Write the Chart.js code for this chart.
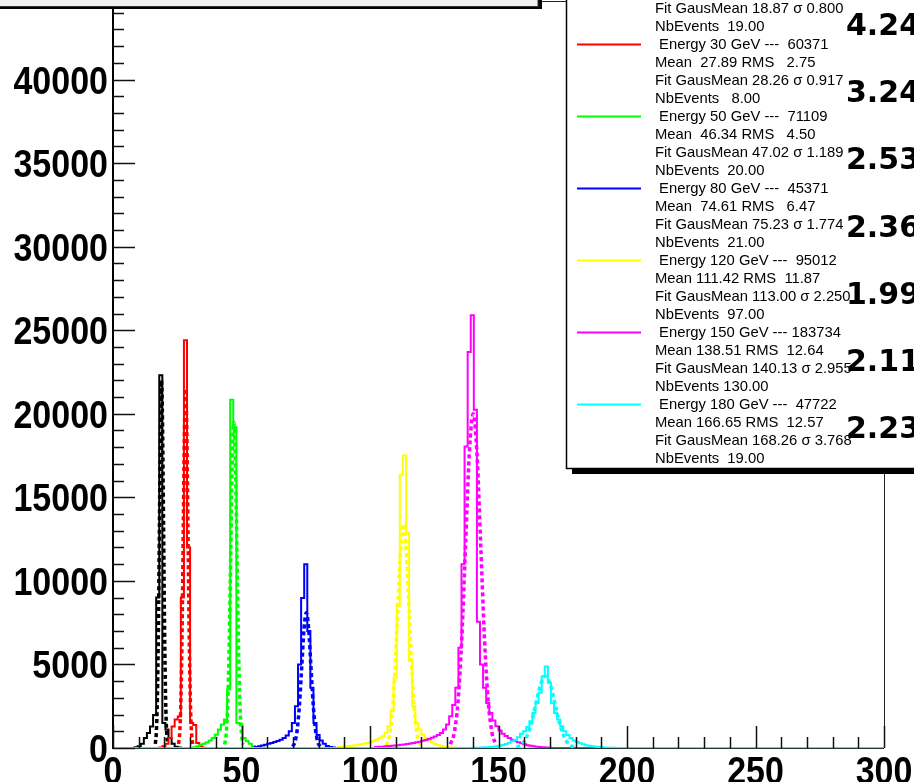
<!DOCTYPE html>
<html>
<head>
<meta charset="utf-8">
<title>Energy resolution</title>
<script src="https://cdn.jsdelivr.net/npm/chart.js@4.4.1/dist/chart.umd.min.js"></script>
<style>
  html, body { margin: 0; padding: 0; background: #fff; overflow: hidden; }
  canvas { display: block; }
</style>
</head>
<body>
<canvas id="resoChart" width="914" height="782"></canvas>
<script>
// histogram binning (GeV)
const binWidth = 1.2;
const xTickLabels = [0, 50, 100, 150, 200, 250, 300];
const yTickLabels = [0, 5000, 10000, 15000, 20000, 25000, 30000, 35000, 40000];

const energies = [20, 30, 50, 80, 120, 150, 180];
const entries = [null, 60371, 71109, 45371, 95012, 183734, 47722];
const means = [null, 27.89, 46.34, 74.61, 111.42, 138.51, 166.65];
const rmsVals = [null, 2.75, 4.50, 6.47, 11.87, 12.64, 12.57];
const fitMeans = [18.87, 28.26, 47.02, 75.23, 113.00, 140.13, 168.26];
const fitSigmas = [0.800, 0.917, 1.189, 1.774, 2.250, 2.955, 3.768];
const nbEvents = [19.00, 8.00, 20.00, 21.00, 97.00, 130.00, 19.00];
const resolutions = ['4.24', '3.24', '2.53', '2.36', '1.99', '2.11', '2.23'];

// first filled bin of each histogram, then the bin contents
const firstBin = [7, 15, 25, 46, 73, 85, 116];
const counts20 = [40, 100, 250, 600, 900, 1280, 1980, 9000, 22300, 1500, 1100, 600, 250, 80, 25];
const counts30 = [30, 100, 250, 600, 1280, 1700, 1880, 9000, 24400, 12000, 1500, 1380, 300, 80, 20];
const counts50 = [20, 50, 100, 180, 250, 330, 450, 600, 800, 1100, 1400, 1700, 3500, 20840, 19200,
                  1500, 1400, 600, 400, 250, 120, 50, 20];
const counts80 = [60, 100, 150, 200, 250, 300, 360, 420, 500, 600, 750, 1000, 1500, 2500, 5000, 8980,
                  11000, 7000, 3600, 1500, 780, 450, 250, 120, 60, 25];
const counts120 = [60, 80, 100, 120, 140, 160, 190, 220, 260, 300, 350, 420, 500, 600, 700, 900, 1300,
                   2200, 4200, 8500, 16350, 17500, 12900, 5200, 2500, 1500, 1100, 800, 600, 450, 330,
                   250, 180, 120, 80, 50, 30, 15];
const counts150 = [60, 70, 80, 100, 115, 130, 150, 170, 190, 215, 240, 270, 300, 340, 380, 430, 480,
                   540, 610, 690, 780, 900, 1100, 1400, 1900, 2570, 3600, 6000, 11000, 18040, 23700,
                   25900, 20240, 7560, 5000, 3600, 2700, 2100, 1650, 1300, 1050, 850, 720, 600, 500,
                   420, 350, 280, 220, 170, 130, 100, 75, 55, 40, 25, 15];
const counts180 = [10, 15, 20, 30, 40, 50, 65, 80, 100, 130, 180, 240, 320, 400, 480, 650, 850, 1000,
                   1250, 1600, 2100, 2700, 3300, 4300, 4870, 3900, 2700, 2100, 1700, 1300, 1000, 780,
                   600, 450, 370, 290, 220, 170, 130, 100, 75, 55, 40, 30, 20, 15, 10];

// gaussian fit curves
const fitX20 = [16.47, 16.87, 17.27, 17.67, 18.07, 18.47, 18.87, 19.27, 19.67, 20.07, 20.47, 20.87, 21.27];
const fitY20 = [244, 966, 2977, 7143, 13343, 19415, 22000, 19415, 13343, 7143, 2977, 966, 244];
const fitX30 = [25.51, 25.97, 26.43, 26.88, 27.34, 27.80, 28.26, 28.72, 29.18, 29.64, 30.09, 30.55, 31.01];
const fitY30 = [239, 944, 2909, 6981, 13040, 18974, 21500, 18974, 13040, 6981, 2909, 944, 239];
const fitX50 = [43.45, 44.05, 44.64, 45.24, 45.83, 46.43, 47.02, 47.61, 48.21, 48.80, 49.40, 49.99, 50.59];
const fitY50 = [216, 856, 2638, 6332, 11827, 17209, 19500, 17209, 11827, 6332, 2638, 856, 216];
const fitX80 = [69.91, 70.80, 71.68, 72.57, 73.46, 74.34, 75.23, 76.12, 77.00, 77.89, 78.78, 79.67, 80.55];
const fitY80 = [90, 356, 1096, 2630, 4913, 7148, 8100, 7148, 4913, 2630, 1096, 356, 90];
const fitX120 = [106.25, 107.38, 108.50, 109.63, 110.75, 111.88, 113.00, 114.13, 115.25, 116.38, 117.50, 118.63, 119.75];
const fitY120 = [149, 588, 1813, 4351, 8127, 11826, 13400, 11826, 8127, 4351, 1813, 588, 149];
const fitX150 = [131.27, 132.74, 134.22, 135.70, 137.18, 138.65, 140.13, 141.61, 143.09, 144.56, 146.04, 147.52, 148.99];
const fitY150 = [222, 878, 2706, 6494, 12130, 17650, 20000, 17650, 12130, 6494, 2706, 878, 222];
const fitX180 = [156.96, 158.84, 160.72, 162.61, 164.49, 166.38, 168.26, 170.14, 172.03, 173.91, 175.79, 177.68, 179.56];
const fitY180 = [48, 189, 582, 1396, 2608, 3795, 4300, 3795, 2608, 1396, 582, 189, 48];

const histCounts = [counts20, counts30, counts50, counts80, counts120, counts150, counts180];
const fitXs = [fitX20, fitX30, fitX50, fitX80, fitX120, fitX150, fitX180];
const fitYs = [fitY20, fitY30, fitY50, fitY80, fitY120, fitY150, fitY180];
const colors = ['#000000', '#ff0000', '#00ff00', '#0000ff', '#ffff00', '#ff00ff', '#00ffff'];

function histPoints(first, counts) {
  const pts = [{x: 0, y: 0}];
  counts.forEach((c, i) => pts.push({x: (first + i) * binWidth, y: c}));
  pts.push({x: (first + counts.length) * binWidth, y: 0});
  pts.push({x: 300, y: 0});
  return pts;
}

const datasets = [];
energies.forEach((e, k) => {
  datasets.push({
    label: 'Energy ' + e + ' GeV',
    data: histPoints(firstBin[k], histCounts[k]),
    borderColor: colors[k],
    borderWidth: 2,
    stepped: true,
    pointRadius: 0,
    fill: false
  });
  datasets.push({
    label: 'Fit ' + e + ' GeV',
    data: fitXs[k].map((x, i) => ({x: x, y: fitYs[k][i]})),
    borderColor: colors[k],
    borderWidth: 3.5,
    borderDash: [4, 3],
    cubicInterpolationMode: 'monotone',
    pointRadius: 0,
    fill: false
  });
});
// chart.js paints the first dataset on top, so reverse to get 180 GeV last
datasets.reverse();

function fmt(v, d, w) {
  return v.toFixed(d).padStart(w, ' ');
}

// bold axis labels, a bit taller than the plain font
function tallText(ctx, t, x, y) {
  ctx.save();
  ctx.translate(x, y);
  ctx.scale(1, 1.12);
  ctx.fillText(t, 0, 0);
  ctx.restore();
}

const rootStyle = {
  id: 'rootStyle',
  beforeDatasetsDraw(chart) {
    const ctx = chart.ctx, a = chart.chartArea;
    ctx.save();
    ctx.strokeStyle = '#222';
    ctx.lineWidth = 1;
    ctx.beginPath();
    ctx.moveTo(a.left, a.top + 0.5);
    ctx.lineTo(a.right + 0.5, a.top + 0.5);
    ctx.lineTo(a.right + 0.5, a.bottom);
    ctx.stroke();
    ctx.restore();
  },
  afterDatasetsDraw(chart) {
    const ctx = chart.ctx, a = chart.chartArea;
    const xs = chart.scales.x, ys = chart.scales.y;
    ctx.save();

    // axes
    ctx.strokeStyle = '#1a3a3a';
    ctx.lineWidth = 1;
    ctx.beginPath();
    ctx.moveTo(a.left, a.bottom + 0.5);
    ctx.lineTo(a.right, a.bottom + 0.5);
    ctx.stroke();
    ctx.strokeStyle = '#000';
    ctx.lineWidth = 2;
    ctx.beginPath();
    ctx.moveTo(a.left, a.top);
    ctx.lineTo(a.left, a.bottom + 1);
    ctx.stroke();

    // ticks point inwards, major every 5000 / 50
    ctx.lineWidth = 1.5;
    ctx.strokeStyle = '#111';
    for (let v = 0; v <= ys.max; v += 1000) {
      const py = Math.round(ys.getPixelForValue(v)) + 0.5;
      const len = v % 5000 === 0 ? 22 : 11;
      ctx.beginPath();
      ctx.moveTo(a.left, py);
      ctx.lineTo(a.left + len, py);
      ctx.stroke();
    }
    for (let v = 0; v <= 300; v += 10) {
      const px = Math.round(xs.getPixelForValue(v)) + 0.5;
      const len = v % 50 === 0 ? 22 : 11;
      ctx.beginPath();
      ctx.moveTo(px, a.bottom);
      ctx.lineTo(px, a.bottom - len);
      ctx.stroke();
    }

    // tick labels
    ctx.fillStyle = '#000';
    ctx.font = 'bold 34px "Liberation Sans", Arial, sans-serif';
    ctx.textAlign = 'right';
    ctx.textBaseline = 'alphabetic';
    yTickLabels.forEach(v => {
      tallText(ctx, String(v), a.left - 5, ys.getPixelForValue(v) + 14);
    });
    ctx.textAlign = 'center';
    xTickLabels.forEach(v => {
      tallText(ctx, String(v), xs.getPixelForValue(v), 784);
    });

    // title pave
    ctx.fillStyle = '#000';
    ctx.fillRect(0, 6, 542, 3);
    ctx.fillRect(538, -10, 4, 19);
    ctx.fillStyle = '#f0f0f0';
    ctx.fillRect(-5, -40, 543, 46);
    ctx.strokeStyle = '#333';
    ctx.lineWidth = 1;
    ctx.strokeRect(-5, -40, 543, 46.5);
    ctx.fillStyle = '#999';
    ctx.font = 'bold 30px "Liberation Sans", Arial, sans-serif';
    ctx.textAlign = 'left';
    ctx.fillText('Resolution for electrons from 20 to 180 GeV', 30, -1);

    // legend pave with shadow
    const lx = 566, lb = 468;
    ctx.fillStyle = '#000';
    ctx.fillRect(lx + 6, lb, 400, 6);
    ctx.fillStyle = '#fff';
    ctx.fillRect(lx, -10, 400, lb + 10);
    ctx.strokeStyle = '#000';
    ctx.lineWidth = 1.5;
    ctx.beginPath();
    ctx.moveTo(lx + 0.5, -10);
    ctx.lineTo(lx + 0.5, lb + 0.5);
    ctx.lineTo(914, lb + 0.5);
    ctx.stroke();

    ctx.font = '14.8px "Liberation Sans", Arial, sans-serif';
    ctx.textBaseline = 'middle';
    const lineY = k => 8.5 + 18.0 * k;
    energies.forEach((e, i) => {
      const k0 = i * 4 - 2;
      const lines = [
        entries[i] === null ? null : ' Energy ' + e + ' GeV --- ' + String(entries[i]).padStart(6, ' '),
        means[i] === null ? null : 'Mean ' + fmt(means[i], 2, 6) + ' RMS ' + fmt(rmsVals[i], 2, 6),
        'Fit GausMean ' + fitMeans[i].toFixed(2) + ' \u03c3 ' + fitSigmas[i].toFixed(3),
        'NbEvents ' + fmt(nbEvents[i], 2, 6)
      ];
      lines.forEach((t, j) => {
        if (t === null) return;
        ctx.fillStyle = '#000';
        ctx.fillText(t, 655, lineY(k0 + j));
      });
      ctx.strokeStyle = colors[i];
      ctx.lineWidth = 2;
      ctx.beginPath();
      ctx.moveTo(577, lineY(k0));
      ctx.lineTo(641, lineY(k0));
      ctx.stroke();
    });

    // resolution in percent next to each entry
    ctx.fillStyle = '#000';
    ctx.font = 'bold 30px "DejaVu Sans", sans-serif';
    ctx.textBaseline = 'alphabetic';
    resolutions.forEach((r, i) => {
      ctx.fillText(r, 846, 35 + 67.2 * i);
    });

    ctx.restore();
  }
};

const ctx = document.getElementById('resoChart').getContext('2d');
const resoChart = new Chart(ctx, {
  type: 'line',
  data: { datasets: datasets },
  options: {
    responsive: false,
    animation: false,
    events: [],
    layout: { padding: { left: 113, right: 30, top: 1, bottom: 34 } },
    plugins: {
      legend: { display: false },
      tooltip: { enabled: false }
    },
    scales: {
      x: { type: 'linear', min: 0, max: 300, display: false },
      y: { type: 'linear', min: 0, max: 44700, display: false }
    }
  },
  plugins: [rootStyle]
});
</script>
</body>
</html>
